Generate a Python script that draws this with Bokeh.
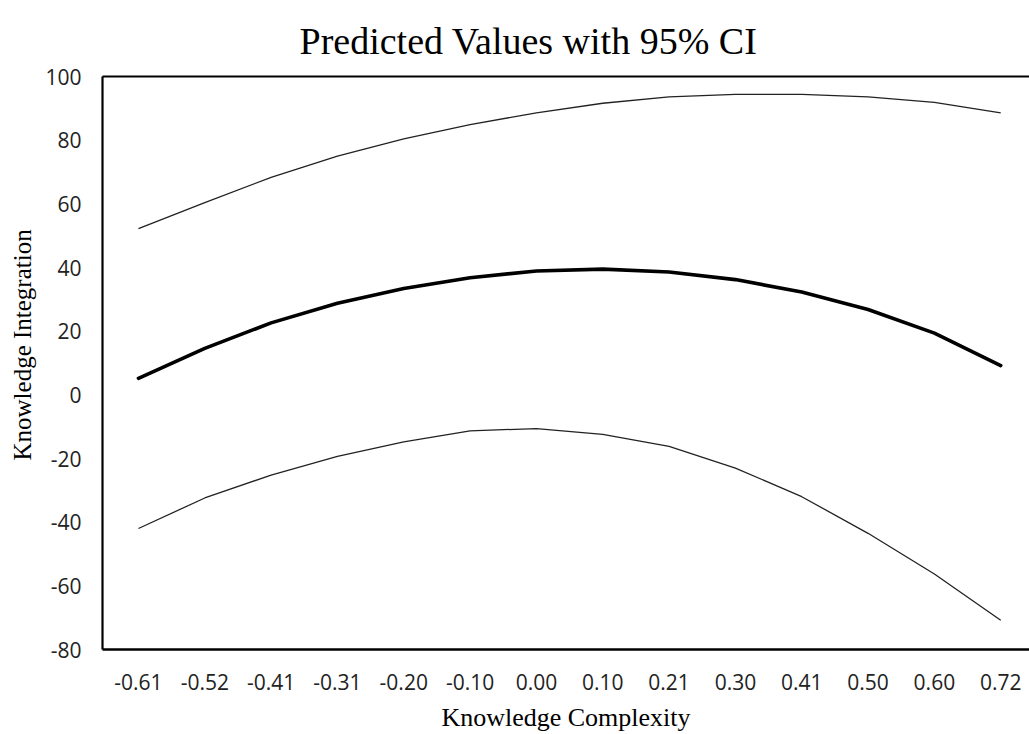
from bokeh.plotting import figure
from bokeh.models import Range1d, FixedTicker, LinearAxis, Title
from bokeh.embed import file_html
from bokeh.resources import INLINE

# ---- data ----
x_labels = ["-0.61", "-0.52", "-0.41", "-0.31", "-0.20", "-0.10", "0.00",
            "0.10", "0.21", "0.30", "0.41", "0.50", "0.60", "0.72"]
upper = [52.2, 60.4, 68.3, 75.0, 80.4, 84.9, 88.6, 91.6, 93.6, 94.4, 94.4, 93.6, 91.9, 88.6]
predicted = [5.2, 14.6, 22.6, 28.8, 33.4, 36.8, 38.9, 39.5, 38.6, 36.2, 32.3, 26.8, 19.4, 9.2]
lower = [-42.0, -32.4, -25.2, -19.3, -14.8, -11.3, -10.6, -12.4, -16.2, -23.0, -32.0, -43.5, -56.3, -70.8]
y_ticks = [-80, -60, -40, -20, 0, 20, 40, 60, 80, 100]

idx = list(range(len(x_labels)))

SERIF = "Liberation Serif"
SANS = "Open Sans"

p = figure(width=1029, height=734, output_backend="svg", toolbar_location=None,
           x_range=Range1d(-0.542, 13.434), y_range=Range1d(-80, 100),
           min_border_left=101, min_border_right=0, min_border_top=76,
           min_border_bottom=85, title="Predicted Values with 95% CI")
p.outline_line_color = None
p.grid.visible = False
p.background_fill_color = "white"
p.border_fill_color = "white"

p.title.text_font = SERIF
p.title.text_font_size = "38px"
p.title.text_font_style = "normal"
p.title.text_color = "black"
p.title.align = "left"
p.title.offset = 197
p.title.standoff = 30

# bottom axis
xa = p.xaxis[0]
xa.ticker = FixedTicker(ticks=idx)
xa.major_label_overrides = {i: lab for i, lab in enumerate(x_labels)}
xa.major_tick_line_color = None
xa.minor_tick_line_color = None
xa.major_tick_out = 0
xa.major_tick_in = 0
xa.axis_line_width = 2.5
xa.axis_line_color = "black"
xa.major_label_text_font = SANS
xa.major_label_text_font_size = "21px"
xa.major_label_text_color = "#222222"
xa.major_label_standoff = 24
xa.axis_label = "Knowledge Complexity"
xa.axis_label_text_font = SERIF
xa.axis_label_text_font_size = "26px"
xa.axis_label_text_font_style = "normal"
xa.axis_label_text_color = "black"
xa.axis_label_standoff = 10

# left axis
ya = p.yaxis[0]
ya.ticker = FixedTicker(ticks=y_ticks)
ya.major_label_overrides = {v: str(v) for v in y_ticks}
ya.major_tick_line_color = None
ya.minor_tick_line_color = None
ya.major_tick_out = 0
ya.major_tick_in = 0
ya.axis_line_width = 2.2
ya.axis_line_color = "black"
ya.major_label_text_font = SANS
ya.major_label_text_font_size = "21px"
ya.major_label_text_color = "#222222"
ya.major_label_standoff = 21

# y-axis title, as a side title so it can sit slightly above the frame centre
ytitle = Title(text="Knowledge Integration", align="left", offset=189,
               text_font=SERIF, text_font_size="25px", text_font_style="normal",
               text_color="black", standoff=13)
p.add_layout(ytitle, "left")

# top border line (open on the right, as in the reference)
top = LinearAxis(ticker=FixedTicker(ticks=[]), axis_line_width=2.2, axis_line_color="black",
                 major_tick_line_color=None, minor_tick_line_color=None,
                 major_label_text_color=None, major_label_standoff=0,
                 major_tick_out=0, major_tick_in=0)
p.add_layout(top, "above")

p.line(idx, upper, line_color="#222222", line_width=1.3)
p.line(idx, lower, line_color="#222222", line_width=1.3)
p.line(idx, predicted, line_color="black", line_width=3.6, line_join="round", line_cap="round")

open("out.html", "w").write(file_html(p, INLINE))
